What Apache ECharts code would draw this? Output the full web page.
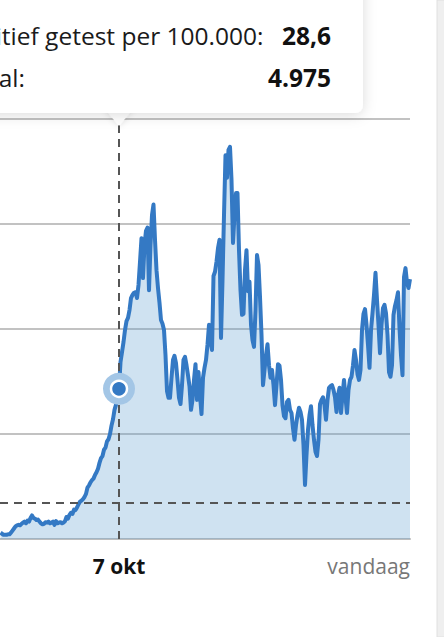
<!DOCTYPE html>
<html><head><meta charset="utf-8">
<script src="https://cdn.jsdelivr.net/npm/echarts@6/dist/echarts.min.js"></script>
<style>html,body{margin:0;padding:0;background:#fff;}#c{width:444px;height:637px;}</style>
</head><body><div id="c"></div>
<script>
// daily positives per 100.000, starting 20 jul 2020 (index 79 = 7 okt)
const startDate = '2020-07-20';
const values = [
  1.2, 1.0, 0.8, 0.8, 0.8, 0.9, 0.9, 1.2, 1.6, 2.0,
  2.4, 2.6, 2.7, 2.6, 2.9, 3.1, 3.3, 3.0, 3.5, 3.3,
  4.0, 4.5, 4.0, 3.9, 3.6, 3.7, 3.3, 3.0, 2.8, 2.9,
  3.2, 3.1, 3.3, 3.0, 3.1, 3.3, 2.7, 3.4, 3.0, 3.1,
  3.2, 3.0, 3.1, 3.4, 4.2, 3.9, 4.6, 5.0, 4.8, 5.6,
  5.5, 6.0, 6.6, 7.1, 7.3, 7.6, 8.0, 8.6, 9.8, 10.2,
  10.8, 11.2, 11.5, 12.2, 12.7, 13.4, 14.5, 15.4, 15.8, 17.0,
  17.4, 18.6, 19.0, 20.0, 21.6, 22.8, 24.6, 25.6, 27.2, 28.6,
  33.7, 35.6, 37.5, 39.8, 41.5, 42.1, 43.6, 45.9, 46.5, 46.9,
  47.0, 45.9, 48.4, 52.8, 57.3, 49.7, 56.0, 58.7, 59.3, 47.4,
  56.0, 61.7, 63.7, 57.0, 51.2, 47.8, 45.0, 41.7, 41.0, 39.8,
  35.0, 28.2, 26.9, 26.9, 30.7, 34.1, 34.9, 33.5, 30.3, 26.9,
  25.7, 29.3, 34.1, 34.7, 33.1, 31.2, 29.1, 24.6, 26.5, 30.3,
  33.3, 26.5, 31.8, 27.4, 23.8, 30.7, 32.6, 34.1, 37.0, 40.8,
  37.9, 36.0, 50.1, 50.9, 52.8, 55.4, 57.0, 38.3, 49.3, 61.7,
  73.1, 68.8, 74.1, 74.7, 68.4, 56.4, 61.7, 65.9, 65.9, 55.0,
  47.4, 42.7, 42.9, 51.2, 55.0, 47.2, 49.0, 40.8, 37.9, 36.6,
  43.6, 54.1, 52.2, 46.1, 38.9, 29.3, 32.2, 35.0, 37.1, 33.1,
  30.7, 32.2, 29.3, 25.5, 29.3, 33.3, 33.0, 30.3, 25.5, 23.4,
  23.0, 26.1, 26.5, 24.6, 24.0, 21.1, 18.9, 21.7, 23.6, 25.0,
  24.2, 22.7, 17.9, 10.3, 16.0, 20.8, 23.6, 25.3, 21.7, 18.9,
  16.6, 15.8, 18.9, 25.7, 26.5, 27.0, 25.5, 22.7, 26.5, 28.8,
  29.1, 29.3, 28.4, 27.0, 24.2, 27.4, 28.8, 24.0, 27.4, 30.3,
  26.9, 24.0, 28.4, 30.3, 30.9, 33.1, 36.0, 34.1, 31.4, 30.3,
  32.2, 39.8, 42.9, 43.8, 40.8, 37.0, 32.6, 39.8, 43.0, 46.5,
  50.7, 45.5, 40.8, 35.4, 40.8, 44.0, 44.6, 43.0, 38.9, 31.8,
  30.9, 33.1, 42.7, 44.4, 45.5, 47.0, 40.2, 35.0, 31.2, 49.9,
  51.6, 48.8, 47.8, 49.5
];
const tickIndex = [79, 273];
const tickLabels = ['7 okt', 'vandaag'];
const highlightIndex = 79;
const signalValue = 7;
const yTicks = [0, 20, 40, 60, 80];
const tooltipLabels = ['Positief getest per 100.000:', 'Totaal:'];
const tooltipValues = ['28,6', '4.975'];

const data = values.map((v, i) => [i, v]);
const FONT = '"Open Sans", sans-serif';
const BLUE = '#3479c4';
const chart = echarts.init(document.getElementById('c'), null, {renderer: 'svg'});
const labelFor = v => tickLabels[tickIndex.indexOf(Math.round(v))] || '';

chart.setOption({
  animation: false,
  grid: {left: 0, right: 34, top: 119, bottom: 98},
  xAxis: [
    {type: 'value', min: -1/3, max: tickIndex[1], position: 'bottom',
     axisLine: {show: true, lineStyle: {color: '#bdbdbd', width: 2}},
     axisTick: {show: false}, splitLine: {show: false},
     axisLabel: {customValues: [tickIndex[0]], formatter: labelFor, fontFamily: FONT,
                 fontSize: 21, fontWeight: 'bold', color: '#111', margin: 16}},
    {type: 'value', min: -1/3, max: tickIndex[1], position: 'bottom',
     axisLine: {show: false}, axisTick: {show: false}, splitLine: {show: false},
     axisLabel: {customValues: [tickIndex[1]], formatter: labelFor, align: 'right',
                 fontFamily: FONT, fontSize: 21, color: '#777', margin: 16}}
  ],
  yAxis: {type: 'value', min: yTicks[0], max: yTicks[yTicks.length - 1], interval: 20,
          axisLabel: {show: false}, axisLine: {show: false}, axisTick: {show: false},
          splitLine: {lineStyle: {color: '#c2c2c2', width: 2}}},
  series: [{
    type: 'line', data, symbol: 'none', silent: true,
    lineStyle: {color: BLUE, width: 4, join: 'round'},
    areaStyle: {color: 'rgba(95,158,208,0.3)', opacity: 1},
    markLine: {symbol: 'none', silent: true, label: {show: false},
               lineStyle: {color: '#555', type: [8, 6], width: 2},
               data: [{yAxis: signalValue}, {xAxis: highlightIndex}]},
    markPoint: {symbol: 'circle', silent: true, label: {show: false},
      data: [
        {coord: [highlightIndex, values[highlightIndex]], symbolSize: 32, itemStyle: {color: '#a3c6e6'}},
        {coord: [highlightIndex, values[highlightIndex]], symbolSize: 16, itemStyle: {color: BLUE, borderColor: '#fff', borderWidth: 2.5}}
      ]}
  }],
  graphic: [
    {type: 'rect', shape: {x: 437, y: 0, width: 8, height: 637}, style: {fill: '#efefef', stroke: '#e0e0e0', lineWidth: 1}, z: 90},
    {type: 'polygon', shape: {points: [[104, 108], [134, 108], [119, 126]]},
     style: {fill: '#fff', shadowBlur: 6, shadowColor: 'rgba(0,0,0,0.12)'}, z: 99},
    {type: 'rect', shape: {x: -20, y: -20, width: 383, height: 133, r: 8},
     style: {fill: '#fff', shadowBlur: 14, shadowColor: 'rgba(0,0,0,0.14)', shadowOffsetY: 2}, z: 100},
    {type: 'text', x: 263.5, y: 35, z: 101, style: {text: tooltipLabels[0], fontFamily: FONT, fontSize: 24.5, fill: '#1a1a1a', align: 'right', verticalAlign: 'middle'}},
    {type: 'text', x: 25, y: 77, z: 101, style: {text: tooltipLabels[1], fontFamily: FONT, fontSize: 24.5, fill: '#1a1a1a', align: 'right', verticalAlign: 'middle'}},
    {type: 'text', x: 331, y: 35, z: 101, style: {text: tooltipValues[0], fontFamily: FONT, fontSize: 24.5, fontWeight: 'bold', fill: '#111', align: 'right', verticalAlign: 'middle'}},
    {type: 'text', x: 331, y: 77, z: 101, style: {text: tooltipValues[1], fontFamily: FONT, fontSize: 24.5, fontWeight: 'bold', fill: '#111', align: 'right', verticalAlign: 'middle'}}
  ]
});
</script>
</body></html>
